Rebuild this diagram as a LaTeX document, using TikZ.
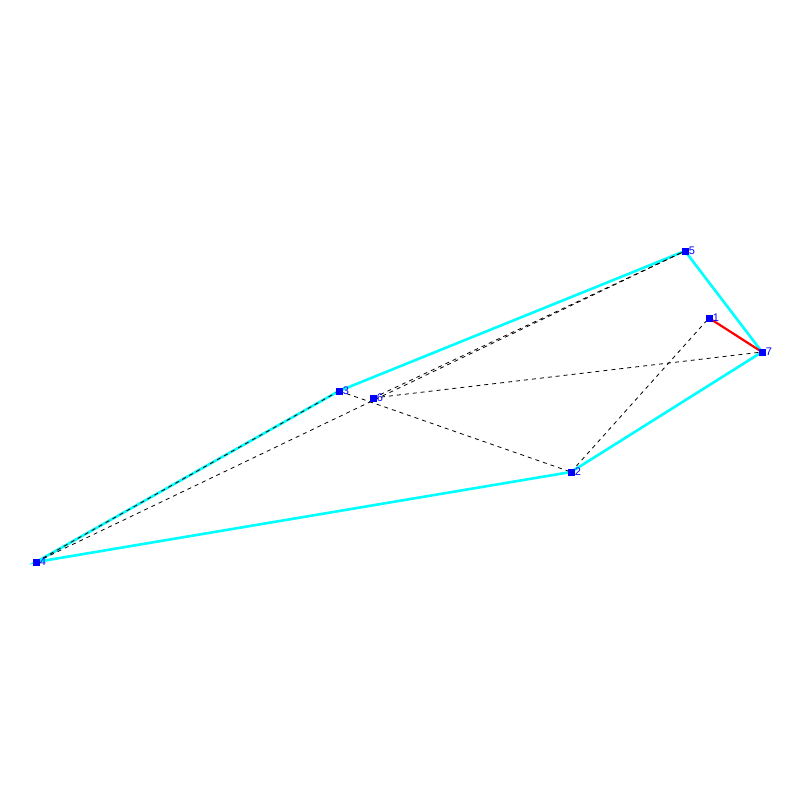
\documentclass[tikz,border=0pt]{standalone}
\usepackage{fontspec}
\setsansfont{Liberation Sans}
\usetikzlibrary{positioning}

\definecolor{hullcyan}{RGB}{0,255,255}
\definecolor{ptblue}{RGB}{0,0,255}
\definecolor{pickred}{RGB}{255,0,0}

\tikzset{
  pt/.style={fill=ptblue,draw=none,minimum size=7pt,inner sep=0pt,
    label={[text=ptblue,font=\sffamily\fontsize{11}{11}\selectfont,inner sep=0.5pt,xshift=-0.5pt]right:#1}},
  hull/.style={hullcyan,line width=2.6pt},
  chord/.style={black,line width=0.8pt,dash pattern=on 4pt off 4pt},
  pick/.style={pickred,line width=2.2pt}
}

\begin{document}
\begin{tikzpicture}[x=1pt,y=-1pt]
\useasboundingbox (0,0) rectangle (800,800);

\coordinate (p1) at (709,318);
\coordinate (p2) at (571,472);
\coordinate (p3) at (339,391);
\coordinate (p4) at (36,562);
\coordinate (p5) at (685,251);
\coordinate (p6) at (373,398);
\coordinate (p7) at (762,352);

% outer hull
\draw[hull] (p4) -- (p3) -- (p5) -- (p7) -- (p2) -- cycle;
\draw[pick] (p1) -- (p7);

% inner edges
\draw[chord] (p4) -- (p3);
\draw[chord] (p4) -- (p5);
\draw[chord] (p6) -- (p5);
\draw[chord] (p6) -- (p7);
\draw[chord] (p3) -- (p2);
\draw[chord] (p2) -- (p1);

\node[pt=1] (n1) at (p1) {};
\node[pt=2] (n2) at (p2) {};
\node[pt=3] (n3) at (p3) {};
\node[pt=4] (n4) at (p4) {};
\node[pt=5] (n5) at (p5) {};
\node[pt=6] (n6) at (p6) {};
\node[pt=7] (n7) at (p7) {};
\end{tikzpicture}
\end{document}
